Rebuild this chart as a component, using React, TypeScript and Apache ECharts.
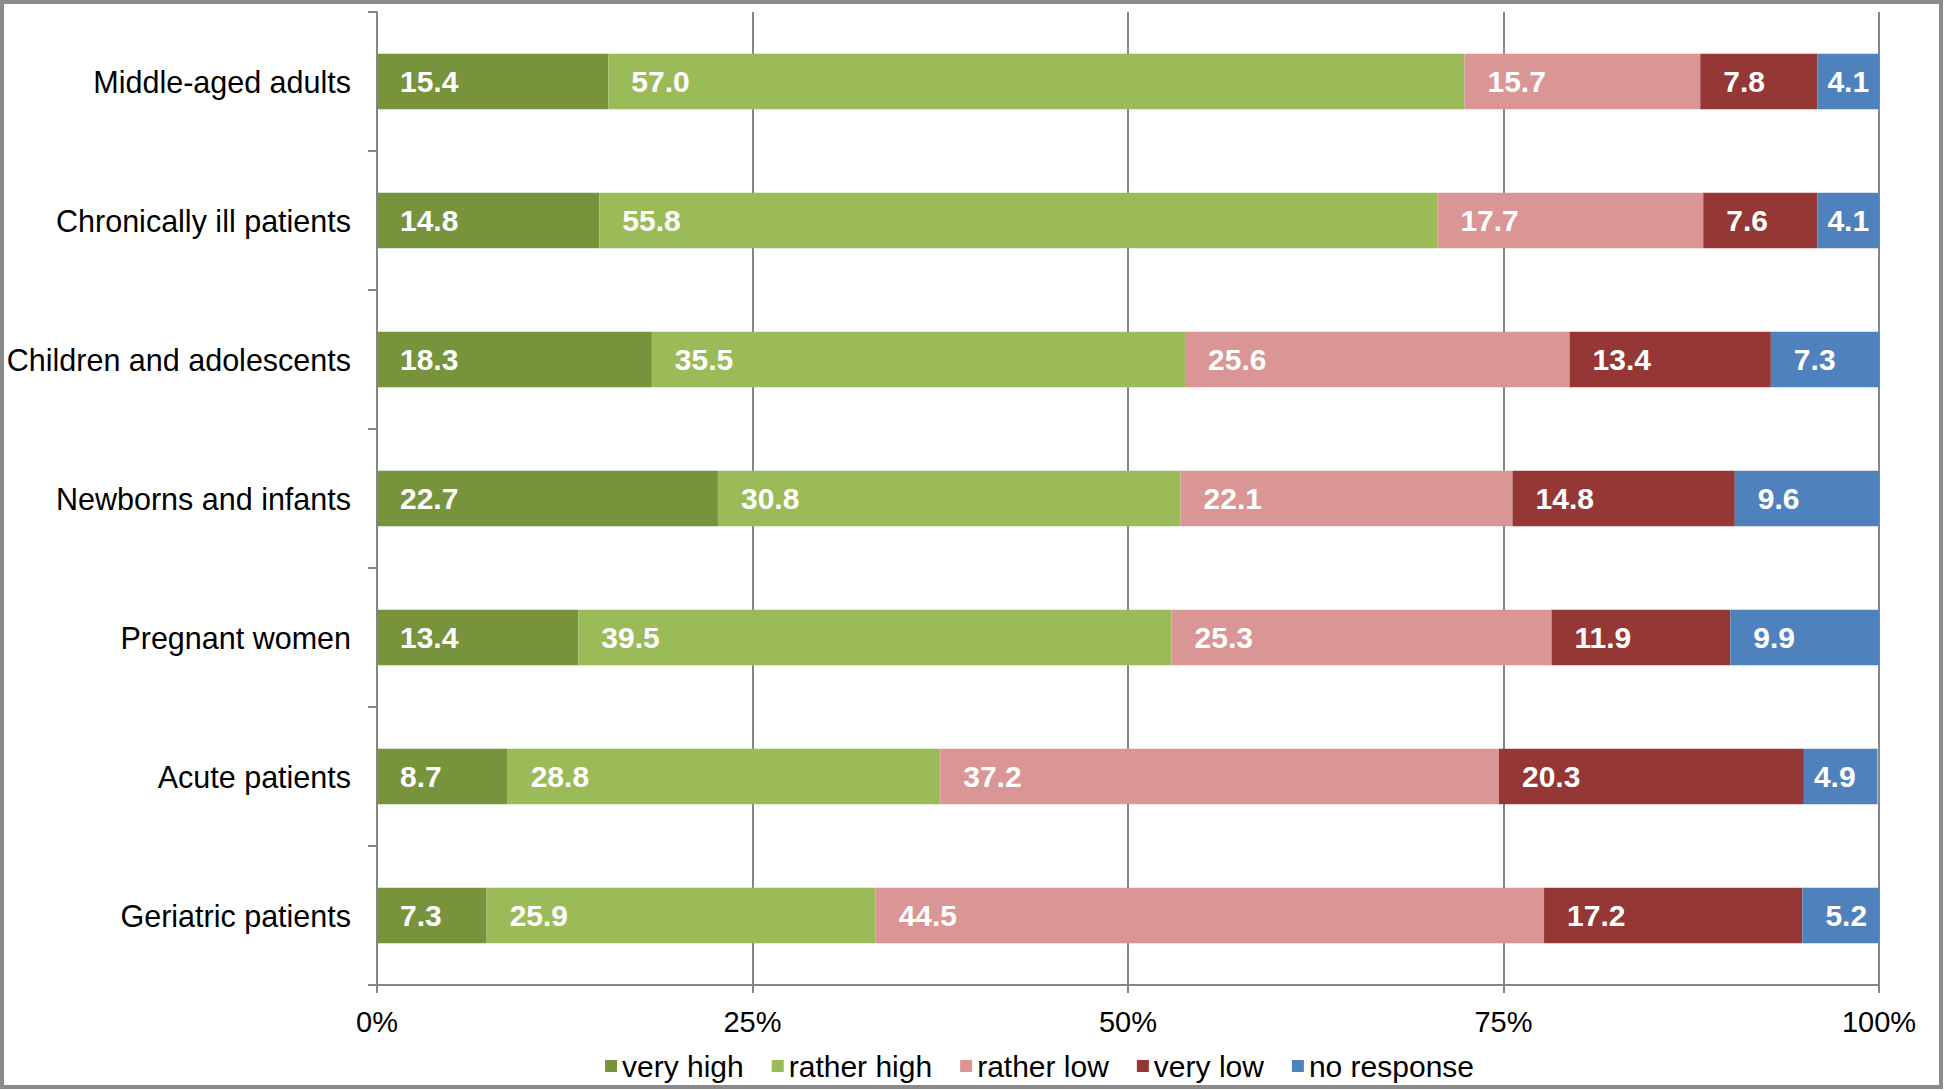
import React, { useEffect, useRef } from "react";
import * as echarts from "echarts";

const categories = [
  "Middle-aged adults",
  "Chronically ill patients",
  "Children and adolescents",
  "Newborns and infants",
  "Pregnant women",
  "Acute patients",
  "Geriatric patients",
];

const seriesNames = ["very high", "rather high", "rather low", "very low", "no response"];

const veryHigh = [15.4, 14.8, 18.3, 22.7, 13.4, 8.7, 7.3];
const ratherHigh = [57.0, 55.8, 35.5, 30.8, 39.5, 28.8, 25.9];
const ratherLow = [15.7, 17.7, 25.6, 22.1, 25.3, 37.2, 44.5];
const veryLow = [7.8, 7.6, 13.4, 14.8, 11.9, 20.3, 17.2];
const noResponse = [4.1, 4.1, 7.3, 9.6, 9.9, 4.9, 5.2];

const xTicks = [0, 25, 50, 75, 100];

const colors = ["#77933C", "#9BBB59", "#D99694", "#953735", "#4F81BD"];

const FONT = "'Liberation Sans', Arial, sans-serif";

export default function App() {
  const ref = useRef<HTMLDivElement>(null);

  useEffect(() => {
    document.body.style.margin = "0";
    if (!ref.current) return;
    const chart = echarts.init(ref.current, undefined, { renderer: "svg" });
    const allData = [veryHigh, ratherHigh, ratherLow, veryLow, noResponse];

    const series = allData.map((arr, i) => ({
      name: seriesNames[i],
      type: "bar",
      stack: "total",
      barWidth: "40%",
      itemStyle: { color: colors[i] },
      data: arr.map((v) => ({
        value: v,
        label: { distance: v < 5 ? 10 : 23 },
      })),
      label: {
        show: true,
        position: "insideLeft",
        color: "#ffffff",
        fontWeight: "bold",
        fontSize: 30,
        fontFamily: FONT,
        formatter: (p: any) => Number(p.value).toFixed(1),
      },
    }));

    chart.setOption({
      animation: false,
      backgroundColor: "#ffffff",
      textStyle: { fontFamily: FONT },
      graphic: [
        {
          type: "rect",
          shape: { x: 2, y: 2, width: 1939, height: 1085 },
          style: { fill: "none", stroke: "#8a8a8a", lineWidth: 4 },
          silent: true,
        },
      ],
      legend: {
        data: seriesNames,
        left: 600,
        top: 1046,
        icon: "rect",
        itemWidth: 12,
        itemHeight: 12,
        itemGap: 28,
        textStyle: { fontSize: 30, color: "#000", fontFamily: FONT, padding: [0, 0, 0, 0] },
      },
      grid: { left: 377, right: 65, top: 12, bottom: 106, containLabel: false },
      xAxis: {
        type: "value",
        min: 0,
        max: 100,
        interval: 25,
        axisLine: { show: true, lineStyle: { color: "#868686", width: 2 } },
        axisTick: { show: true, length: 8, lineStyle: { color: "#868686", width: 2 } },
        splitLine: { show: true, lineStyle: { color: "#868686", width: 2 } },
        axisLabel: {
          fontSize: 29,
          color: "#000",
          fontFamily: FONT,
          margin: 22,
          formatter: (v: number) => (xTicks.includes(v) ? v + "%" : ""),
        },
      },
      yAxis: {
        type: "category",
        inverse: true,
        data: categories,
        axisLine: { show: true, lineStyle: { color: "#868686", width: 2 } },
        axisTick: { show: true, length: 9, lineStyle: { color: "#868686", width: 2 } },
        axisLabel: { fontSize: 30.5, color: "#000", fontFamily: FONT, margin: 26 },
        splitLine: { show: false },
      },
      series,
    });
    return () => chart.dispose();
  }, []);

  return <div ref={ref} style={{ width: 1944, height: 1091 }} />;
}
